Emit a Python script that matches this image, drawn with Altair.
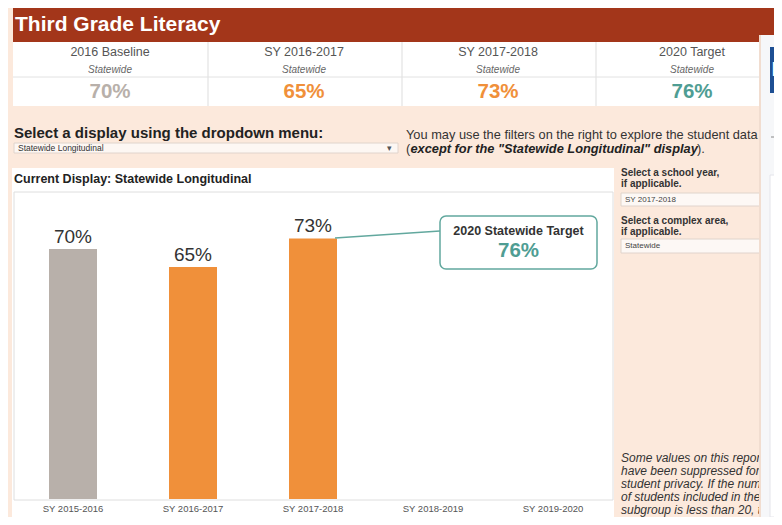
import altair as alt
import pandas as pd

# ---------------- data ----------------
kpi_headers = ["2016 Baseline", "SY 2016-2017", "SY 2017-2018", "2020 Target"]
kpi_sub = ["Statewide", "Statewide", "Statewide", "Statewide"]
kpi_values = [70, 65, 73, 76]

years = ["SY 2015-2016", "SY 2016-2017", "SY 2017-2018", "SY 2018-2019", "SY 2019-2020"]
rates = [70, 65, 73, None, None]

target_label = "2020 Statewide Target"
target_value = 76

note_lines = [
    "Some values on this report",
    "have been suppressed for",
    "student privacy. If the number",
    "of students included in the",
    "subgroup is less than 20, the",
    "value is excluded from the",
]

# ---------------- style ----------------
W, H = 766, 509
FONT = "Liberation Sans, Arial, sans-serif"
PEACH = "#fce9dc"
RUST = "#a3361a"
GRAY = "#b8b0aa"
ORANGE = "#f0903a"
TEAL = "#4f9d93"
kpi_colors = [GRAY, ORANGE, ORANGE, TEAL]
bar_colors = [GRAY, ORANGE, ORANGE, ORANGE, ORANGE]

one = pd.DataFrame({"k": [0]})


def rect(x, x2, y, y2, fill, stroke=None, sw=1.0, r=0):
    kw = dict(fill=fill, strokeWidth=sw, cornerRadius=r)
    if stroke is not None:
        kw["stroke"] = stroke
    else:
        kw["strokeWidth"] = 0
    return alt.Chart(one).mark_rect(**kw).encode(
        x=alt.value(x), x2=alt.value(x2), y=alt.value(y), y2=alt.value(y2)
    )


def rule(x, x2, y, y2, color, sw=1.0):
    return alt.Chart(one).mark_rule(color=color, strokeWidth=sw).encode(
        x=alt.value(x), x2=alt.value(x2), y=alt.value(y), y2=alt.value(y2)
    )


def txt(s, x, y, size, color="#333333", weight="normal", style="normal",
        align="left", baseline="middle"):
    return alt.Chart(one).mark_text(
        text=s, font=FONT, fontSize=size, color=color, fontWeight=weight,
        fontStyle=style, align=align, baseline=baseline
    ).encode(x=alt.value(x), y=alt.value(y))


layers = []

# header band
layers.append(rect(5, W, 0, 34, RUST))
layers.append(txt("Third Grade Literacy", 7, 23, 21, "white", "bold", baseline="alphabetic"))

# KPI table
layers.append(rect(5, W, 34, 98, "white"))
for sx in [200, 394, 588]:
    layers.append(rule(sx, sx, 34, 98, "#dddddd"))
layers.append(rule(5, W, 69, 69, "#e2e2e2"))

kpi_df = pd.DataFrame({"head": kpi_headers, "sub": kpi_sub, "value": kpi_values})
xk = alt.X("head:N", scale=alt.Scale(type="point", domain=kpi_headers, range=[5, 781], padding=0.5), axis=None)
kbase = alt.Chart(kpi_df)
layers.append(kbase.mark_text(font=FONT, fontSize=12.5, color="#555555").encode(
    x=xk, y=alt.value(44), text="head:N"))
layers.append(kbase.mark_text(font=FONT, fontSize=10, fontStyle="italic", color="#666666").encode(
    x=xk, y=alt.value(62), text="sub:N"))
layers.append(kbase.mark_text(font=FONT, fontSize=20.5, fontWeight="bold").transform_calculate(
    lbl="datum.value + '%'").encode(
    x=xk, y=alt.value(84), text="lbl:N",
    color=alt.Color("head:N", scale=alt.Scale(domain=kpi_headers, range=kpi_colors), legend=None)))

# dropdown row
layers.append(txt("Select a display using the dropdown menu:", 6, 130, 15, "#222222", "bold", baseline="alphabetic"))
layers.append(rect(6, 390, 135, 145, "#fdf7f3", "#e0d4cc", 1))
layers.append(txt("Statewide Longitudinal", 10, 140, 8.5, "#333333"))
layers.append(txt("\u25BE", 379, 140, 9, "#555555"))
layers.append(txt("You may use the filters on the right to explore the student data", 398, 131, 12.8, "#333333", baseline="alphabetic"))
layers.append(txt("(", 398, 145, 12.8, "#333333", baseline="alphabetic"))
layers.append(txt("except for the \"Statewide Longitudinal\" display", 402.5, 145, 12.8, "#222222", "bold", "italic", baseline="alphabetic"))
layers.append(txt(").", 689, 145, 12.8, "#333333", baseline="alphabetic"))

# main panel
layers.append(rect(4, 606, 160, H, "white"))
layers.append(txt("Current Display: Statewide Longitudinal", 6, 171, 12.5, "#222222", "bold"))
layers.append(rect(6, 605, 184, 492, "white", "#dedede", 1))

bar_df = pd.DataFrame({"year": years, "rate": rates})
xb = alt.X("year:N", scale=alt.Scale(type="band", domain=years, range=[5, 605], paddingInner=0.6, paddingOuter=0.3), axis=None)
xp = alt.X("year:N", scale=alt.Scale(type="point", domain=years, range=[5, 605], padding=0.5), axis=None)
yb = alt.Y("rate:Q", scale=alt.Scale(domain=[0, 86], range=[491, 184], nice=False, zero=True), axis=None)

bbase = alt.Chart(bar_df)
layers.append(bbase.mark_bar().transform_filter("datum.rate != null").encode(
    x=xb, y=yb,
    color=alt.Color("year:N", scale=alt.Scale(domain=years, range=bar_colors), legend=None)))
layers.append(bbase.mark_text(font=FONT, fontSize=19, color="#333333", dy=-12).transform_filter(
    "datum.rate != null").transform_calculate(lbl="datum.rate + '%'").encode(
    x=xp, y=yb, text="lbl:N"))
layers.append(bbase.mark_text(font=FONT, fontSize=9.5, color="#555555").encode(
    x=xp, y=alt.value(501), text="year:N"))

# target annotation
layers.append(rule(327, 432, 230, 223, "#62a89e", 1.5))
layers.append(rect(432, 589, 208, 261, "white", "#62a89e", 1.5, 6))
layers.append(txt(target_label, 510.5, 223, 12.5, "#333333", "bold", align="center"))
layers.append(txt(f"{target_value}%", 510.5, 243, 20.5, TEAL, "bold", align="center"))

# right filter panel
layers.append(txt("Select a school year,", 613, 165, 10, "#333333", "bold"))
layers.append(txt("if applicable.", 613, 176, 10, "#333333", "bold"))
layers.append(rect(613, 760, 185, 198, "#fdf8f5", "#e0d4cc", 1))
layers.append(txt("SY 2017-2018", 617, 191.5, 8, "#444444"))
layers.append(txt("Select a complex area,", 613, 213, 10, "#333333", "bold"))
layers.append(txt("if applicable.", 613, 224, 10, "#333333", "bold"))
layers.append(rect(613, 760, 231, 245, "#fdf8f5", "#e0d4cc", 1))
layers.append(txt("Statewide", 617, 238, 8, "#444444"))
for i, line in enumerate(note_lines):
    layers.append(txt(line, 613, 450 + 13 * i, 12, "#333333", style="italic"))

# overlay panel on the right edge
layers.append(rect(751, 753, 27, H, "#f1ddd0"))
layers.append(rect(753, W, 27, H, "#f6f7f9"))
layers.append(rect(762, W + 10, 39, 85, "#1d4f93"))
layers.append(txt("F", 763.5, 62, 21, "white", "bold"))
layers.append(rule(763, W, 129, 129, "#888888", 1))
layers.append(rect(762, W + 10, 167, H, "white", "#e4e4ea", 1))

chart = alt.layer(*layers).properties(
    width=W, height=H, padding=0,
    autosize=alt.AutoSizeParams(type="none"),
    background=PEACH,
).resolve_scale(x="independent", y="independent", color="independent").configure_view(stroke=None)

chart.save("out.html", embed_options={"renderer": "svg", "actions": False})
